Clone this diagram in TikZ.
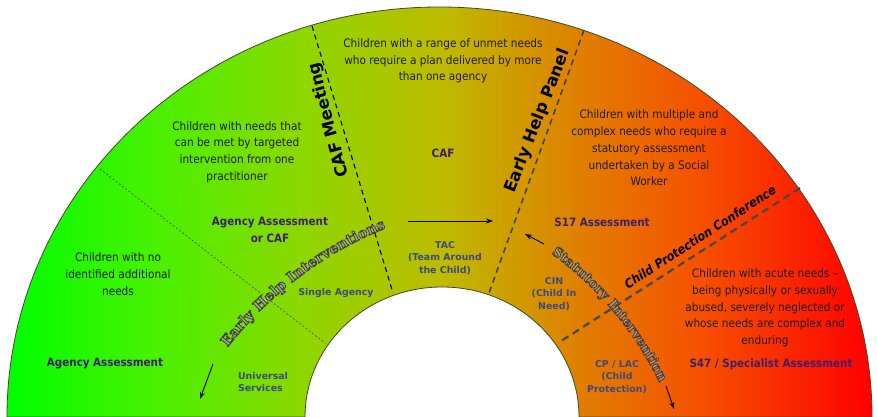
\documentclass[tikz,border=0pt]{standalone}
\usepackage{fontspec}
\setmainfont{DejaVu Sans Condensed}[BoldFont={DejaVu Sans Condensed Bold},ItalicFont={DejaVu Sans Condensed Oblique},BoldItalicFont={DejaVu Sans Condensed Bold Oblique}]
\newfontfamily\headfont{DejaVu Sans}[BoldFont={DejaVu Sans Bold}]
\newfontfamily\arcfont{DejaVu Serif}[BoldFont={DejaVu Serif Bold}]
\usetikzlibrary{arrows.meta,decorations.text}
\definecolor{g0}{HTML}{00FF00}
\definecolor{g1}{HTML}{44F200}
\definecolor{g2}{HTML}{8CD800}
\definecolor{g3}{HTML}{BDBC00}
\definecolor{g4}{HTML}{E27C00}
\definecolor{g5}{HTML}{F65000}
\definecolor{g6}{HTML}{FF0000}
\definecolor{bodytxt}{HTML}{1E1E1E}
\definecolor{purp}{HTML}{3D1F6E}
\definecolor{slate}{HTML}{3D4A7D}
\definecolor{arcfill}{HTML}{A4A4A4}
\definecolor{ringline}{HTML}{3C4A2A}
\newcommand{\outlinetext}{\special{pdf:literal direct 0.25 0.25 0.25 RG 0.8 w 2 Tr}}
\pgfdeclarehorizontalshading{annshade}{100bp}{color(0bp)=(g0); color(25bp)=(g0); color(33bp)=(g1); color(41.9bp)=(g2); color(50bp)=(g3); color(58.5bp)=(g4); color(65.1bp)=(g5); color(75bp)=(g6); color(100bp)=(g6)}
\begin{document}
\begin{tikzpicture}[x=1pt,y=1pt,
  body/.style={font=\fontsize{11.7}{16.7}\selectfont, text=bodytxt, align=center, inner sep=0pt},
  lab/.style={font=\bfseries\fontsize{11.5}{17.5}\selectfont, text=purp, align=center, inner sep=0pt},
  small/.style={font=\headfont\bfseries\fontsize{9.4}{12.5}\selectfont, text=slate, align=center, inner sep=0pt},
  head/.style={font=\headfont\bfseries\fontsize{16.5}{18}\selectfont, text=black, inner sep=0pt},
  sepdot/.style={draw=black!70, line width=0.6pt, dash pattern=on 2pt off 2pt},
  sepcaf/.style={draw=black, line width=1.1pt, dash pattern=on 5pt off 4pt},
  sepehp/.style={draw=black!75, line width=1.5pt, dash pattern=on 6pt off 4.5pt},
  sepcpc/.style={draw=black!72, line width=2.2pt, dash pattern=on 7.5pt off 5pt},
  arr/.style={draw=black, line width=0.9pt, -{Stealth[length=7pt,width=5pt]}},
  ehitext/.style={decorate, decoration={text along path, text align=center,
    text={|\arcfont\bfseries\fontsize{14.5}{15}\selectfont\color{arcfill}\outlinetext|Early Help Interventions}}},
  sttext/.style={decorate, decoration={text along path, text align=center,
    text={|\arcfont\bfseries\fontsize{13.5}{14}\selectfont\color{arcfill}\outlinetext|Statutory Intervention}}}
]
\useasboundingbox (0,0) rectangle (877,417);
% ring
\shadedraw[shading=annshade, draw=ringline, line width=0.8pt]
  (7,0) arc[start angle=180,end angle=0,x radius=432.5pt,y radius=410pt]
  -- (579,0) arc[start angle=0,end angle=180,x radius=137pt,y radius=130pt] -- cycle;
% separators
\coordinate (d1a) at (100,248); \coordinate (d1b) at (325,74);
\coordinate (d2a) at (312,391); \coordinate (d2b) at (393,124);
\coordinate (d3a) at (584,387); \coordinate (d3b) at (489,124);
\coordinate (d4a) at (800,229); \coordinate (d4b) at (558,74);
\draw[sepdot] (d1a) -- (d1b);
\draw[sepcaf] (d2a) -- (d2b);
\draw[sepehp] (d3a) -- (d3b);
\draw[sepcpc] (d4a) -- (d4b);
% body texts
\node[body] (t1) at (118,143) {Children with no\\identified additional\\needs};
\node[body] (t2) at (237,265) {Children with needs that\\can be met by targeted\\intervention from one\\practitioner};
\node[body] (t3) at (443,356) {Children with a range of unmet needs\\who require a plan delivered by more\\than one agency};
\node[body] (t4) at (649,269) {Children with multiple and\\complex needs who require a\\statutory assessment\\undertaken by a Social\\Worker};
\node[body] (t5) at (765,109) {Children with acute needs --\\being physically or sexually\\abused, severely neglected or\\whose needs are complex and\\enduring};
% purple labels
\node[lab] (lAA) at (105,53) {Agency Assessment};
\node[lab] (lAAC) at (270,187) {Agency Assessment\\or CAF};
\node[lab] (lCAF) at (443,264) {CAF};
\node[lab] (lS17) at (602,195) {S17 Assessment};
\node[lab] (lS47) at (771,53) {S47 / Specialist Assessment};
% small labels
\node[small, align=left] (sUS) at (263,35) {Universal\\Services};
\node[small] (sSA) at (336,124) {Single Agency};
\node[small] (sTAC) at (445,159) {TAC\\(Team Around\\the Child)};
\node[small] (sCIN) at (554,123) {CIN\\(Child In\\Need)};
\node[small] (sCP) at (617,40) {CP / LAC\\(Child\\Protection)};
% headers
\node[head, rotate=105] (hCAF) at (329,297) {CAF Meeting};
\node[head, rotate=69] (hEHP) at (538,296) {Early Help Panel};
\node[font=\bfseries\itshape\fontsize{12.5}{14}\selectfont, inner sep=0pt, rotate=33] (hCPC) at (700,180) {Child Protection Conference};
% curved texts
\coordinate (ehiO) at (530,-167);
\coordinate (stO) at (349,-116);
\path[ehitext] (ehiO) ++(152:384pt) arc[start angle=152,end angle=102,radius=384pt];
\path[sttext] (stO) ++(64:345pt) arc[start angle=64,end angle=16,radius=345pt];
% arrows
\coordinate (a1s) at (213,53); \coordinate (a1e) at (200,18);
\coordinate (a2s) at (666,31); \coordinate (a2e) at (674,8);
\coordinate (a3s) at (408,196); \coordinate (a3e) at (493,196);
\coordinate (a4s) at (544,173); \coordinate (a4e) at (525,183);
\draw[arr] (a1s) -- (a1e);
\draw[arr] (a2s) -- (a2e);
\draw[arr] (a3s) -- (a3e);
\draw[arr] (a4s) -- (a4e);
\end{tikzpicture}
\end{document}
